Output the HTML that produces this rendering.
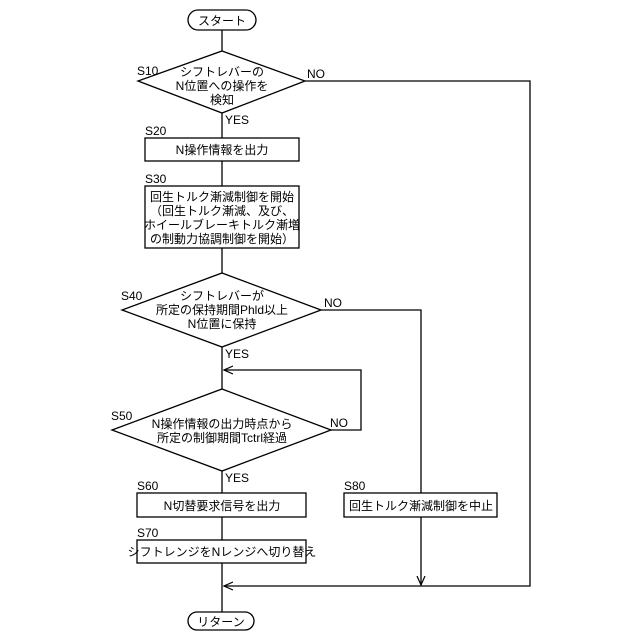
<!DOCTYPE html>
<html><head><meta charset="utf-8"><style>body{margin:0;background:#fff}svg{display:block}</style></head><body>
<svg width="640" height="640" viewBox="0 0 640 640" xmlns="http://www.w3.org/2000/svg" font-family="Liberation Sans, Noto Sans CJK JP, sans-serif" font-size="12" fill="#000">
<defs><marker id="a" markerWidth="10" markerHeight="10" refX="9" refY="5" orient="auto" markerUnits="userSpaceOnUse"><path d="M0,1 L9,5 L0,9" fill="none" stroke="#000" stroke-width="1.2"/></marker></defs>
<g stroke="#000" stroke-width="1.3" fill="none">
<rect x="188" y="10" width="68" height="20" rx="10"/>
<line x1="222" y1="30" x2="222" y2="51"/>
<polygon points="222,51 305,81 222,113 138,81" fill="#fff"/>
<line x1="222" y1="113" x2="222" y2="138"/>
<rect x="145" y="138" width="154" height="23"/>
<line x1="222" y1="161" x2="222" y2="186"/>
<rect x="145" y="186" width="154" height="62"/>
<line x1="222" y1="248" x2="222" y2="273"/>
<polygon points="222,273 321,310 222,347 122,310"/>
<line x1="222" y1="347" x2="222" y2="389"/>
<polygon points="222,389 331,430 222,471 112,430"/>
<polyline points="331,430 361,430 361,370 224,370" marker-end="url(#a)"/>
<line x1="222" y1="471" x2="222" y2="493"/>
<rect x="137" y="493" width="169" height="24"/>
<line x1="222" y1="517" x2="222" y2="540"/>
<rect x="137" y="540" width="169" height="23"/>
<line x1="222" y1="563" x2="222" y2="612"/>
<rect x="188" y="612" width="66" height="18" rx="9"/>
<polyline points="305,81 530,81 530,586 224,586" marker-end="url(#a)"/>
<polyline points="321,310 421,310 421,493"/>
<rect x="344" y="493" width="153" height="24"/>
<line x1="421" y1="517" x2="421" y2="585" marker-end="url(#a)"/>
</g>
<g text-anchor="middle">
<text x="222" y="25">スタート</text>
<text x="222" y="76">シフトレバーの</text>
<text x="222" y="90">N位置への操作を</text>
<text x="222" y="104">検知</text>
<text x="222" y="154">N操作情報を出力</text>
<text x="222" y="201">回生トルク漸減制御を開始</text>
<text x="222" y="215">（回生トルク漸減、及び、</text>
<text x="222" y="229">ホイールブレーキトルク漸増</text>
<text x="222" y="243">の制動力協調制御を開始）</text>
<text x="222" y="300">シフトレバーが</text>
<text x="222" y="314">所定の保持期間Phld以上</text>
<text x="222" y="328">N位置に保持</text>
<text x="222" y="428">N操作情報の出力時点から</text>
<text x="222" y="442">所定の制御期間Tctrl経過</text>
<text x="222" y="510">N切替要求信号を出力</text>
<text x="222" y="556">シフトレンジをNレンジへ切り替え</text>
<text x="421" y="510">回生トルク漸減制御を中止</text>
<text x="221" y="626">リターン</text>
</g>
<text x="137" y="75">S10</text>
<text x="307" y="78">NO</text>
<text x="225" y="124">YES</text>
<text x="145" y="135">S20</text>
<text x="145" y="183">S30</text>
<text x="121" y="300">S40</text>
<text x="324" y="307">NO</text>
<text x="225" y="358">YES</text>
<text x="111" y="420">S50</text>
<text x="330" y="427">NO</text>
<text x="225" y="482">YES</text>
<text x="137" y="490">S60</text>
<text x="344" y="490">S80</text>
<text x="137" y="537">S70</text>
</svg>
</body></html>
